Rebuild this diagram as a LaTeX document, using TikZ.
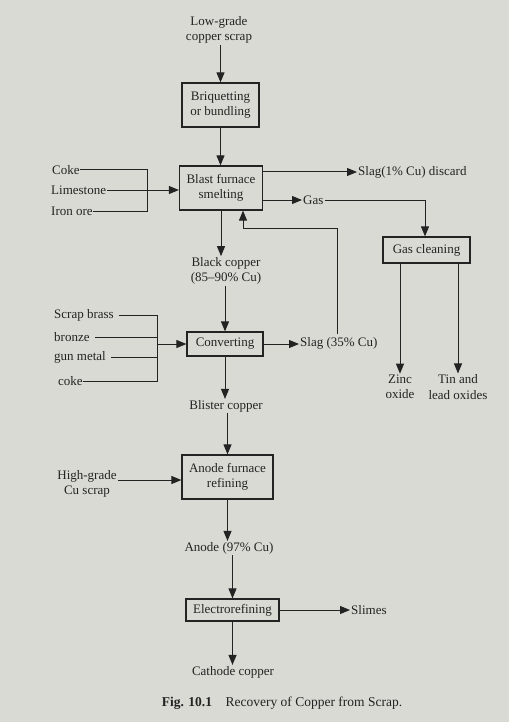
\documentclass[tikz,border=0pt]{standalone}
\usepackage{fontspec}
\setmainfont{Liberation Serif}
\usetikzlibrary{arrows.meta}
\definecolor{page}{RGB}{218,218,212}
\definecolor{ink}{RGB}{35,35,35}
\begin{document}
\begin{tikzpicture}[x=1pt,y=-1pt,
  every node/.style={font=\fontsize{13}{15.5}\selectfont, text=ink, align=center, inner sep=1pt},
  procbox/.style={draw=ink, line width=1.2pt, inner sep=2pt},
  ln/.style={draw=ink, line width=1pt},
  arr/.style={ln, -{Triangle[length=10pt,width=8pt]}}]
\fill[page] (0,0) rectangle (509,722);
\useasboundingbox (0,0) rectangle (509,722);
% boxes
\node[procbox, minimum width=77pt, minimum height=44pt] (brq) at (220.5,105) {Briquetting\\or bundling};
\node[procbox, minimum width=83pt, minimum height=44pt] (blast) at (221,188) {Blast furnace\\smelting};
\node[procbox, minimum width=87pt, minimum height=26pt] (gasc) at (426.5,250) {Gas cleaning};
\node[procbox, minimum width=76pt, minimum height=24pt] (conv) at (225,344) {Converting};
\node[procbox, minimum width=91pt, minimum height=44pt] (anode) at (227.5,477) {Anode furnace\\refining};
\node[procbox, minimum width=93pt, minimum height=22pt] (elec) at (232.5,610) {Electrorefining};
% text nodes
\node (low) at (219,30) {Low-grade\\copper scrap};
\node[anchor=west] (slag1) at (357,172) {Slag(1\% Cu) discard};
\node[anchor=west] (gas) at (302,200) {Gas};
\node (black) at (226,271) {Black copper\\(85--90\% Cu)};
\node[anchor=west] (slag35) at (299,343) {Slag (35\% Cu)};
\node (blister) at (226,406) {Blister copper};
\node (zinc) at (400,387) {Zinc\\oxide};
\node (tin) at (458,387) {Tin and\\lead oxides};
\node (high) at (87,484) {High-grade\\Cu scrap};
\node (anodet) at (229,548) {Anode (97\% Cu)};
\node[anchor=west] (slimes) at (350,610) {Slimes};
\node (cath) at (233,672) {Cathode copper};
\node[font=\fontsize{13.5}{15}\selectfont] (cap) at (282,703) {\textbf{Fig. 10.1}\quad Recovery of Copper from Scrap.};
% blast furnace inputs
\node[anchor=west, inner sep=0pt] (coke1) at (52,170) {Coke};
\node[anchor=west] (lime) at (50,190) {Limestone};
\node[anchor=west, inner sep=0pt] (iron) at (51,211) {Iron ore};
\coordinate (j1) at (147,190);
\draw[ln] (coke1.east) -- (coke1.east -| j1) -- (iron.east -| j1) -- (iron.east);
\draw[arr] (lime.east) -- (lime.east -| blast.west);
% converter inputs
\node[anchor=west] (brass) at (53,315) {Scrap brass};
\node[anchor=west] (bronze) at (53,337) {bronze};
\node[anchor=west] (gun) at (53,357) {gun metal};
\node[anchor=west, inner sep=0pt] (coke2) at (58,381) {coke};
\coordinate (j2) at (157,344);
\draw[ln] ([xshift=4pt]brass.east) -- (brass.east -| j2) -- (coke2.east -| j2) -- (coke2.east);
\draw[ln] ([xshift=4pt]bronze.east) -- (bronze.east -| j2);
\draw[ln] ([xshift=4pt]gun.east) -- (gun.east -| j2);
\draw[arr] (j2) -- (conv.west);
% main flow
\draw[arr] (low.south -| brq.north) -- (brq.north);
\draw[arr] (brq.south) -- (brq.south |- blast.north);
\draw[arr] (blast.south) -- (black.north -| blast.south);
\draw[arr] (black.south -| conv.north) -- (conv.north);
\draw[arr] (conv.south) -- (blister.north -| conv.south);
\draw[arr] (blister.south -| anode.north) -- (anode.north);
\draw[arr] (anode.south) -- (anodet.north -| anode.south);
\draw[arr] (anodet.south -| elec.north) -- (elec.north);
\draw[arr] (elec.south) -- (cath.north -| elec.south);
% side outputs
\draw[arr] (blast.east |- slag1.west) -- (slag1.west);
\draw[arr] (blast.east |- gas.west) -- (gas.west);
\coordinate (g1) at (425,200);
\draw[arr] (gas.east) -- (g1) -- (g1 |- gasc.north);
\draw[arr] (conv.east) -- (slag35.west |- conv.east);
\draw[arr] (elec.east) -- (slimes.west);
\draw[arr] (high.east |- 0,480) -- (anode.west |- 0,480);
% recycle of converter slag
\coordinate (r1) at (337,334);
\coordinate (r2) at (243,228);
\draw[arr] (r1) |- (r2) -- (r2 |- blast.south);
% gas cleaning products
\draw[arr] (gasc.south -| zinc.north) -- (zinc.north);
\draw[arr] (gasc.south -| tin.north) -- (tin.north);
\end{tikzpicture}
\end{document}
